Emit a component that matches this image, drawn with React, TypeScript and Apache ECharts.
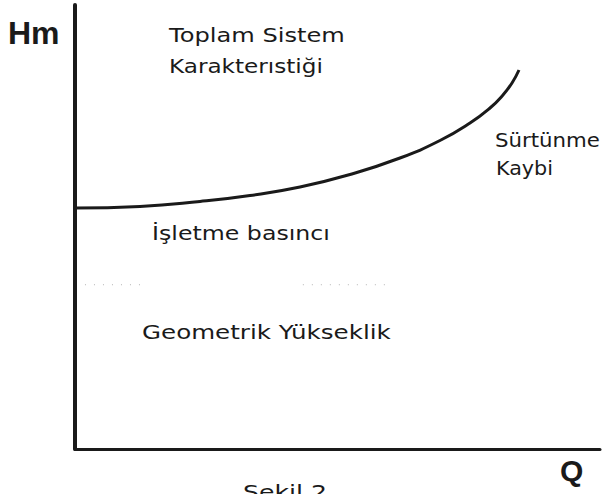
import React, { useEffect, useRef } from "react";
import * as echarts from "echarts";

// System curve (Q on x, Hm on y) (axes 0..100)
const curveQ = [0, 12.38, 23.81, 33.33, 42.86, 52.38, 61.9, 69.52, 75.24, 79.05, 81.52, 83.24, 84.57];
const curveH = [54.28, 54.62, 55.74, 57.09, 59.01, 61.82, 65.54, 69.48, 73.42, 76.8, 79.73, 82.43, 85.36];

// faint dotted separation (scan remains)
const dotSegA = [1.9, 13.9];
const dotSegB = [43.4, 59.4];
const dotLevel = 37.0;

const axisTitleY = "Hm";
const axisTitleX = "Q";
const regionLabels = [
  "Toplam Sistem",
  "Karakterıstiği",
  "Sürtünme",
  "Kaybi",
  "İşletme basıncı",
  "Geometrik Yükseklik",
];
const caption = "Şekil 2";

const FONT = "'DejaVu Sans', 'Liberation Sans', Arial, sans-serif";
const BOLD = "'Liberation Sans', Arial, sans-serif";

function measure(text: string, font: string): number {
  const c = document.createElement("canvas");
  const ctx = c.getContext("2d");
  if (!ctx) return text.length * 10;
  ctx.font = font;
  return ctx.measureText(text).width;
}

export default function App() {
  const ref = useRef<HTMLDivElement>(null);
  useEffect(() => {
    if (!ref.current) return;
    const chart = echarts.init(ref.current, undefined, { renderer: "svg" });

    // [left, centerY, targetWidth]
    const place: [number, number, number][] = [
      [169, 35, 176],
      [169, 66, 154],
      [495, 140, 105],
      [496, 168, 57],
      [152, 233, 178],
      [142, 332, 249],
    ];
    const color = "#1a1a1a";
    const textEls: any[] = regionLabels.map((t, i) => {
      const [x, y, w] = place[i];
      const m = measure(t, "20px 'DejaVu Sans'");
      return {
        type: "text",
        x,
        y,
        scaleX: w / m,
        style: {
          text: t,
          fill: color,
          fontSize: 20,
          fontFamily: FONT,
          align: "left",
          verticalAlign: "middle",
        },
      };
    });
    const capM = measure(caption, "20px 'DejaVu Sans'");
    textEls.push({
      type: "text",
      x: 243,
      y: 492,
      scaleX: 84 / capM,
      style: {
        text: caption,
        fill: color,
        fontSize: 20,
        fontFamily: FONT,
        align: "left",
        verticalAlign: "middle",
      },
    });
    textEls.push({
      type: "text",
      x: 8,
      y: 33,
      style: {
        text: axisTitleY,
        fill: color,
        fontSize: 32,
        fontWeight: "bold",
        fontFamily: BOLD,
        align: "left",
        verticalAlign: "middle",
      },
    });
    textEls.push({
      type: "text",
      x: 560,
      y: 470,
      style: {
        text: axisTitleX,
        fill: color,
        fontSize: 30,
        fontWeight: "bold",
        fontFamily: BOLD,
        align: "left",
        verticalAlign: "middle",
      },
    });

    chart.setOption({
      animation: false,
      backgroundColor: "#ffffff",
      grid: { left: 75, top: 5, right: 3, bottom: 45 },
      xAxis: {
        type: "value",
        min: 0,
        max: 100,
        axisLine: { show: true, lineStyle: { color, width: 3 } },
        axisTick: { show: false },
        axisLabel: { show: false },
        splitLine: { show: false },
      },
      yAxis: {
        type: "value",
        min: 0,
        max: 100,
        axisLine: { show: true, lineStyle: { color, width: 4 } },
        axisTick: { show: false },
        axisLabel: { show: false },
        splitLine: { show: false },
      },
      series: [
        {
          type: "line",
          data: curveQ.map((q, i) => [q, curveH[i]]),
          smooth: 0.5,
          showSymbol: false,
          lineStyle: { color, width: 3 },
          z: 3,
        },
        {
          type: "line",
          data: dotSegA.map((q) => [q, dotLevel]),
          showSymbol: false,
          lineStyle: { color: "#b5b5b5", width: 1, type: [1, 8] },
        },
        {
          type: "line",
          data: dotSegB.map((q) => [q, dotLevel]),
          showSymbol: false,
          lineStyle: { color: "#b5b5b5", width: 1, type: [1, 8] },
        },
      ],
      graphic: textEls,
    });
    return () => chart.dispose();
  }, []);
  return (
    <div
      ref={ref}
      style={{ position: "absolute", left: 0, top: 0, width: 603, height: 494, background: "#fff" }}
    />
  );
}
